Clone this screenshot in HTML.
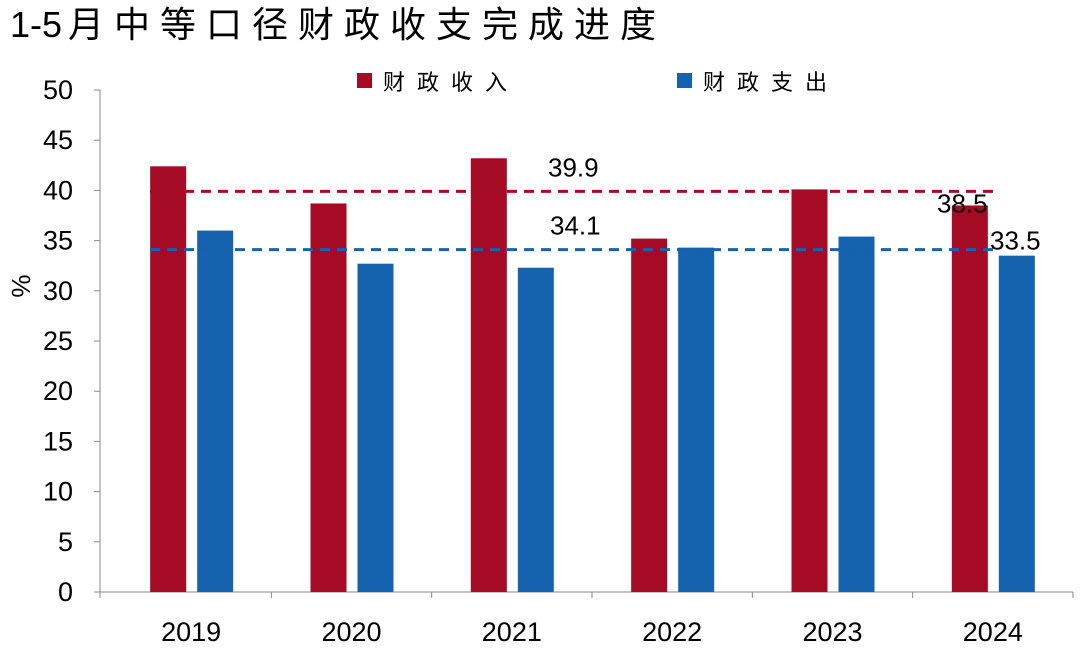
<!DOCTYPE html>
<html><head><meta charset="utf-8">
<style>
body{margin:0;background:#fff;width:1080px;height:648px;overflow:hidden;font-family:"Liberation Sans","Noto Sans CJK SC",sans-serif;}
</style></head>
<body>
<svg id="c" width="1080" height="648" xmlns="http://www.w3.org/2000/svg">
<text x="10" y="37" font-size="36" fill="#000" font-family="Liberation Sans, Noto Sans CJK SC, sans-serif"><tspan>1-5</tspan><tspan x="68" letter-spacing="10">月中等口径财政收支完成进度</tspan></text>
<g>
<rect x="357" y="73" width="15" height="15" fill="#A50B24"/>
<text x="383" y="90" font-size="22" letter-spacing="12" font-family="Noto Sans CJK SC, sans-serif">财政收入</text>
<rect x="677" y="73" width="15" height="15" fill="#1562AE"/>
<text x="703" y="90" font-size="22" letter-spacing="12" font-family="Noto Sans CJK SC, sans-serif">财政支出</text>
</g>
<text transform="translate(30,286) rotate(-90)" font-size="26" text-anchor="middle">%</text>
<g id="g"></g>
</svg>
<script>
const categories=["2019","2020","2021","2022","2023","2024"];
const revenue=[42.4,38.7,43.2,35.2,40.1,38.5];
const expenditure=[36.0,32.7,32.3,34.3,35.4,33.5];
const yTicks=[0,5,10,15,20,25,30,35,40,45,50];
const revenueAvg=39.9;
const expenditureAvg=34.1;
const ns="http://www.w3.org/2000/svg";
const g=document.getElementById('g');
const x0=111,x1=1073,y0=592,y1=90;
const yS=v=>y0-(v/50)*(y0-y1);
const band=(x1-x0)/categories.length;
const xC=i=>x0+band*(i+0.5);
function mk(t,a){const e=document.createElementNS(ns,t);for(const k in a)e.setAttribute(k,a[k]);g.appendChild(e);return e;}
let e=mk('line',{x1:x0-11,y1:y1,x2:x0-11,y2:y0,stroke:'#888','stroke-width':1});


e=mk('line',{x1:x0-11,y1:y0,x2:x1,y2:y0,stroke:'#888','stroke-width':1});


yTicks.forEach(v=>{
 let t=mk('line',{x1:x0-17,x2:x0-11,y1:yS(v),y2:yS(v),stroke:'#888'});
 
 
 let l=mk('text',{x:73,y:yS(v)+9,'font-size':27,'text-anchor':'end'});l.textContent=v;
 
 
});
for(let i=0;i<=categories.length;i++){
 let t=mk('line',{x1:x0+band*i-(i==0?11:0),x2:x0+band*i-(i==0?11:0),y1:y0,y2:y0+6,stroke:'#888'});
 
 
}
categories.forEach((c,i)=>{
 let r=mk('rect',{x:xC(i)-41,y:yS(revenue[i]),width:36,height:y0-yS(revenue[i]),fill:'#A50B24'});
 
 
 let b=mk('rect',{x:xC(i)+6,y:yS(expenditure[i]),width:36,height:y0-yS(expenditure[i]),fill:'#1562AE'});
 
 
 let l=mk('text',{x:xC(i),y:641,'font-size':27,'text-anchor':'middle'});l.textContent=c;
 
 
});
e=mk('line',{x1:150,x2:1000,y1:yS(revenueAvg),y2:yS(revenueAvg),stroke:'#A50B24','stroke-width':3,'stroke-dasharray':'10,7'});


e=mk('line',{x1:150,x2:995,y1:yS(expenditureAvg),y2:yS(expenditureAvg),stroke:'#1562AE','stroke-width':3,'stroke-dasharray':'10,7'});


const labs=[[548,yS(revenueAvg)-15,revenueAvg,'revenue-average-label'],[550,yS(expenditureAvg)-15,expenditureAvg,'expenditure-average-label'],[937,yS(revenue[5])+7,revenue[5],'revenue-2024-label'],[990,yS(expenditure[5])-6,expenditure[5],'expenditure-2024-label']];
labs.forEach(a=>{let t=mk('text',{x:a[0],y:a[1],'font-size':26});t.textContent=a[2].toFixed(1);
 
 });
</script>
</body></html>
